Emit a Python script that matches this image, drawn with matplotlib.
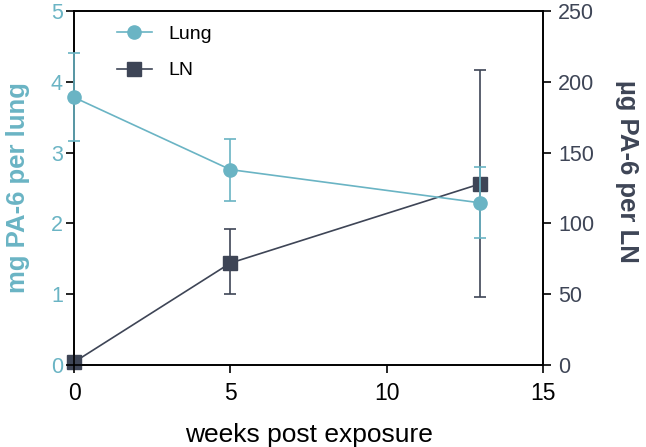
import matplotlib
matplotlib.use("Agg")
import matplotlib.pyplot as plt
from matplotlib.lines import Line2D

plt.rcParams['font.family'] = ['Liberation Sans', 'DejaVu Sans']

weeks = [0, 5, 13]
lung = [3.78, 2.76, 2.29]
lung_lo = [3.16, 2.32, 1.79]
lung_hi = [4.40, 3.19, 2.80]
ln = [2, 72, 128]
ln_lo = [2, 50, 48]
ln_hi = [2, 96, 208]

teal = '#6ab4c4'
slate = '#3e4556'

fig = plt.figure(figsize=(6.46, 4.47), dpi=100)
ax = fig.add_axes([0.1146, 0.1834, 0.726, 0.792])
ax2 = ax.twinx()

lerr = [[m - lo for m, lo in zip(lung, lung_lo)], [hi - m for m, hi in zip(lung, lung_hi)]]
nerr = [[m - lo for m, lo in zip(ln, ln_lo)], [hi - m for m, hi in zip(ln, ln_hi)]]

ax2.errorbar(weeks, ln, yerr=nerr, color=slate, marker='s', markersize=9.5,
             lw=1.2, elinewidth=1.2, capsize=4.5, capthick=1.2,
             clip_on=False, zorder=3)
ax.errorbar(weeks, lung, yerr=lerr, color=teal, marker='o', markersize=9.5,
            lw=1.2, elinewidth=1.2, capsize=4.5, capthick=1.2,
            clip_on=False, zorder=3)
ax.set_zorder(ax2.get_zorder() + 1)
ax.patch.set_visible(False)

ax.set_xlim(0, 15)
ax.set_ylim(0, 5)
ax2.set_ylim(0, 250)
ax.set_xticks([0, 5, 10, 15])
ax.set_yticks(range(6))
ax2.set_yticks(range(0, 251, 50))

for a in (ax, ax2):
    for s in a.spines.values():
        s.set_linewidth(1.2)
        s.set_color('black')
    a.tick_params(direction='out', length=6, width=1.2, labelsize=15.5)

ax.tick_params(axis='y', labelcolor=teal, pad=2)
ax2.tick_params(axis='y', labelcolor=slate, pad=5)
ax.tick_params(axis='x', pad=6, labelsize=16.5)

ax.set_xlabel('weeks post exposure', fontsize=19, labelpad=13)
ax.set_ylabel('mg PA-6 per lung', fontsize=18.5, fontweight='bold', color=teal, labelpad=15)
ax2.set_ylabel('µg PA-6 per LN', fontsize=18.5, fontweight='bold', color=slate,
               rotation=270, va='bottom', labelpad=15)
ax2.yaxis.label.set_y(0.548)

handles = [Line2D([], [], color=teal, marker='o', markersize=9.5, lw=1.2),
           Line2D([], [], color=slate, marker='s', markersize=9.5, lw=1.2)]
ax.legend(handles, ['Lung', 'LN'], loc='upper left', frameon=False, fontsize=14,
          bbox_to_anchor=(0.054, 1.008), handlelength=1.8, labelspacing=0.95,
          handletextpad=0.85)

fig.savefig('out.png', dpi=100)
